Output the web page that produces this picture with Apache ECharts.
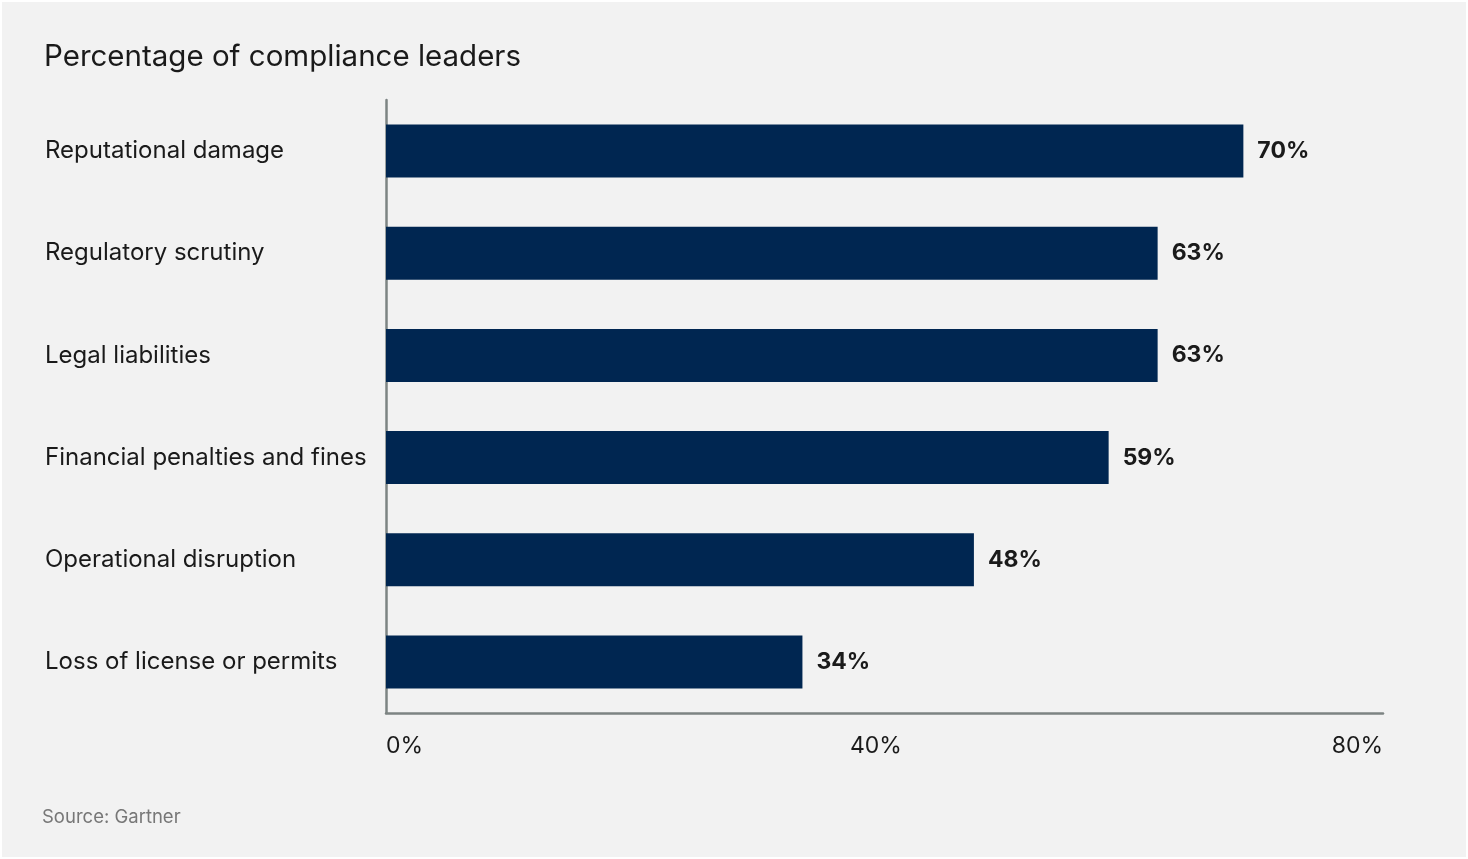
<!DOCTYPE html>
<html>
<head>
<meta charset="utf-8">
<script src="https://cdn.jsdelivr.net/npm/echarts@6/dist/echarts.min.js"></script>
<style>
  html, body { margin: 0; padding: 0; background: #ffffff; }
  #chart { position: absolute; left: 2px; top: 2px; width: 1464px; height: 855px; }
</style>
</head>
<body>
<div id="chart"></div>
<script>
// data
var categories = ['Reputational damage', 'Regulatory scrutiny', 'Legal liabilities',
    'Financial penalties and fines', 'Operational disruption', 'Loss of license or permits'];
var values = [70, 63, 63, 59, 48, 34];
var tickValues = [0, 40, 80];

var axisEnd = 81.4; // axis line runs a bit past the 80% mark

var chart = echarts.init(document.getElementById('chart'));
var option = {
    backgroundColor: '#f2f2f2',
    textStyle: { fontFamily: 'Inter, "Noto Sans", sans-serif' },
    title: [
        {
            text: 'Percentage of compliance leaders',
            left: 37, top: 35,
            textStyle: { fontSize: 29.5, fontWeight: 'normal', color: '#1a1a1a' }
        },
        {
            text: 'Source: Gartner',
            left: 35, top: 801,
            textStyle: { fontSize: 18.5, fontWeight: 'normal', color: '#777777' }
        }
    ],
    grid: { left: 384, right: 83, top: 98, bottom: 144 },
    xAxis: {
        type: 'value',
        min: 0, max: axisEnd, interval: 40,
        splitLine: { show: false },
        axisTick: { show: false },
        axisLine: { show: true, lineStyle: { color: '#7d8483', width: 2.5 } },
        axisLabel: {
            margin: 22,
            fontSize: 23, color: '#1a1a1a',
            alignMinLabel: 'left', alignMaxLabel: 'right',
            formatter: function (v) {
                if (v === axisEnd) return tickValues[2] + '%';
                if (v === tickValues[0] || v === tickValues[1]) return v + '%';
                return '';
            }
        }
    },
    yAxis: {
        type: 'category',
        inverse: true,
        data: categories,
        axisTick: { show: false },
        axisLine: { show: true, lineStyle: { color: '#7d8483', width: 2.5 } },
        axisLabel: { align: 'left', margin: 341, fontSize: 24, color: '#1a1a1a' }
    },
    series: [{
        type: 'bar',
        data: values,
        barWidth: 53,
        itemStyle: { color: '#002651' },
        label: {
            show: true, position: 'right', distance: 14,
            formatter: '{c}%',
            fontSize: 23, fontWeight: 'bold', color: '#1a1a1a'
        }
    }]
};
chart.setOption(option);
window.addEventListener('resize', chart.resize);
</script>
</body>
</html>
